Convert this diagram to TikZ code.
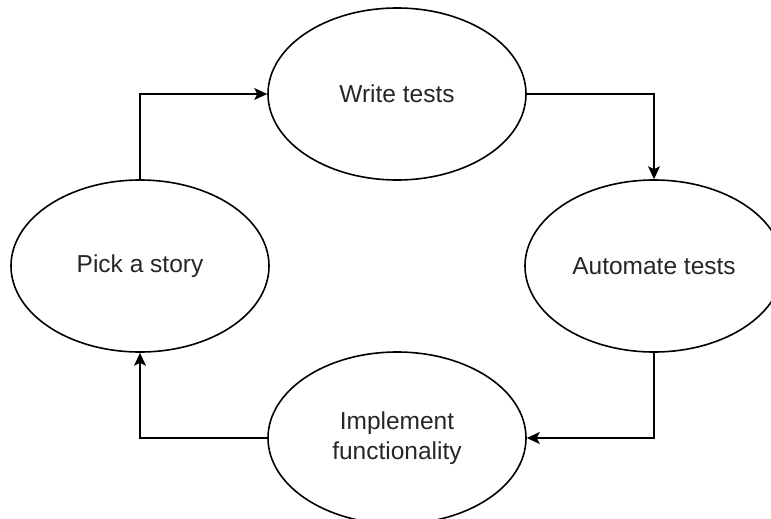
\documentclass[tikz,border=0pt]{standalone}
\usepackage{fontspec}
\setmainfont{Liberation Sans}
\usetikzlibrary{arrows.meta,shapes.geometric}
\begin{document}
\begin{tikzpicture}[x=1pt,y=-1pt,
  stage/.style={draw=black, line width=1.6pt, ellipse, minimum width=258pt, minimum height=172pt,
    inner sep=0pt, align=center, font=\fontsize{24.5}{29.5}\selectfont, text=black!85},
  flow/.style={draw=black, line width=1.6pt, -{Stealth[length=13pt, width=12pt, inset=3pt]}}]
  \useasboundingbox (0,0) rectangle (771,519);
  \begin{scope}
    \clip (0,0) rectangle (771,519);
    \node[stage] (write) at (397,94) {Write tests};
    \node[stage] (auto) at (654,266) {Automate tests};
    \node[stage] (pick) at (140,266) {Pick a story};
    \node[stage] (impl) at (397,438) {Implement\\functionality};
    \draw[flow] (pick.north) |- (write.west);
    \draw[flow] (write.east) -| (auto.north);
    \draw[flow] (auto.south) |- (impl.east);
    \draw[flow] (impl.west) -| (pick.south);
  \end{scope}
\end{tikzpicture}
\end{document}
